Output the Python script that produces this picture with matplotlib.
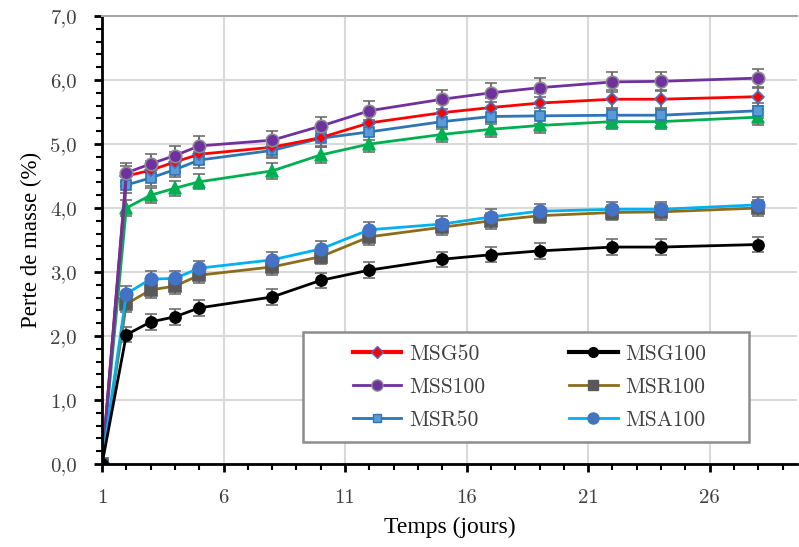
import numpy as np
import matplotlib
matplotlib.use("Agg")
import matplotlib.pyplot as plt
from matplotlib.ticker import MultipleLocator, FuncFormatter
from matplotlib.lines import Line2D
from matplotlib.patches import Rectangle

# Mass loss (%) vs time (days)
days = [1, 2, 3, 4, 5, 8, 10, 12, 15, 17, 19, 22, 24, 28]

msg50 = [0, 4.50, 4.59, 4.72, 4.84, 4.95, 5.10, 5.33, 5.49, 5.57, 5.64, 5.70, 5.70, 5.74]
mss100 = [0, 4.55, 4.69, 4.82, 4.97, 5.06, 5.28, 5.52, 5.70, 5.80, 5.88, 5.97, 5.98, 6.03]
msr50 = [0, 4.36, 4.47, 4.60, 4.75, 4.90, 5.09, 5.19, 5.35, 5.43, 5.44, 5.45, 5.45, 5.52]
msg100 = [0, 2.02, 2.22, 2.30, 2.44, 2.61, 2.87, 3.03, 3.20, 3.27, 3.33, 3.39, 3.39, 3.43]
msr100 = [0, 2.50, 2.72, 2.78, 2.95, 3.08, 3.24, 3.55, 3.70, 3.80, 3.88, 3.93, 3.94, 4.00]
msa100 = [0, 2.66, 2.89, 2.90, 3.06, 3.19, 3.36, 3.66, 3.75, 3.86, 3.95, 3.98, 3.98, 4.05]
green = [0, 4.00, 4.20, 4.31, 4.41, 4.58, 4.83, 5.00, 5.15, 5.23, 5.29, 5.35, 5.35, 5.42]

err_high = 0.15
err_low = 0.12

fig = plt.figure(figsize=(7.99, 5.47), dpi=100)
ax = fig.add_axes([0.1277, 0.1517, 0.87, 0.819])

ecol = "#6f6f6f"

def draw(y, color, marker, ms, mfc, mec, err):
    ax.errorbar(days, y, yerr=[0] + [err] * (len(y) - 1), color=color, lw=2,
                marker=marker, ms=ms, mfc=mfc, mec=mec, mew=1.2,
                ecolor=ecol, elinewidth=1.5, capsize=4, capthick=1.5)

draw(green, "#00b050", "^", 8, "#00b050", "#00b050", err_low)
draw(msr50, "#2e75b6", "s", 7, "#5b9bd5", "#2e75b6", err_low)
ax.plot(days, msr50, ls="none", marker="x", ms=5, mec="#2e75b6", mew=1)
draw(msg50, "#ff0000", "D", 6, "#ff0000", "#4472c4", err_high)
draw(mss100, "#7030a0", "o", 9, "#7030a0", "#8c8c8c", err_high)
draw(msr100, "#8b6d1c", "s", 8, "#595959", "#595959", err_low)
draw(msa100, "#00b0f0", "o", 9, "#4472c4", "#4472c4", err_low)
draw(msg100, "#000000", "o", 8, "#000000", "#000000", err_low)

ax.set_xlim(1, 29.6)
ax.set_ylim(0, 7)
ax.xaxis.set_minor_locator(MultipleLocator(1))
ax.yaxis.set_major_locator(MultipleLocator(1))
ax.yaxis.set_minor_locator(MultipleLocator(0.2))
ax.set_xticks([1, 6, 11, 16, 21, 26])
ax.yaxis.set_major_formatter(FuncFormatter(lambda v, p: f"{v:.1f}".replace(".", ",")))

ax.grid(True, which="major", color="#d9d9d9", lw=1.5)
ax.set_axisbelow(True)

for s in ["left", "bottom"]:
    ax.spines[s].set_linewidth(2)
    ax.spines[s].set_color("black")
ax.spines["right"].set_visible(False)
ax.spines["top"].set_color("#a6a6a6")
ax.spines["top"].set_linewidth(1.5)

ax.tick_params(which="major", direction="out", length=6, width=2, pad=12)
ax.tick_params(which="minor", direction="out", length=4, width=1.5)
for lab in ax.get_xticklabels() + ax.get_yticklabels():
    lab.set_family("cmr10")
    lab.set_fontsize(15)
    lab.set_color("#404040")

ax.set_xlabel("Temps (jours)", family="Liberation Serif", fontsize=17, labelpad=7)
ax.set_ylabel("Perte de masse (%)", family="Liberation Serif", fontsize=16.5, labelpad=6)

# legend: frame drawn separately, handles without error bars
ax.add_patch(Rectangle((0.289, 0.049), 0.642, 0.246, transform=ax.transAxes,
                       facecolor="white", edgecolor="#8c8c8c", lw=1.8, zorder=5))
names = ["MSG50", "MSS100", "MSR50", "MSG100", "MSR100", "MSA100"]
handles = [
    Line2D([], [], color="#ff0000", lw=3, marker="D", ms=6, mfc="#ff0000", mec="#4472c4"),
    Line2D([], [], color="#7030a0", lw=2, marker="o", ms=8, mfc="#7030a0", mec="#8c8c8c"),
    Line2D([], [], color="#2e75b6", lw=2, marker="s", ms=6, mfc="#5b9bd5", mec="#2e75b6"),
    Line2D([], [], color="#000000", lw=3, marker="o", ms=7, mfc="#000000", mec="#000000"),
    Line2D([], [], color="#8b6d1c", lw=2, marker="s", ms=7, mfc="#595959", mec="#595959"),
    Line2D([], [], color="#00b0f0", lw=2, marker="o", ms=8, mfc="#4472c4", mec="#4472c4"),
]
leg = ax.legend(handles, names, ncol=2, loc="center", bbox_to_anchor=(0.615, 0.172),
                prop={"family": "cmr10", "size": 15.5}, frameon=False,
                columnspacing=3.9, handlelength=2.25, handletextpad=0.35,
                labelspacing=0.62, borderpad=0)
leg.set_zorder(6)
for t in leg.get_texts():
    t.set_color("#404040")

fig.savefig("out.png", dpi=100)
